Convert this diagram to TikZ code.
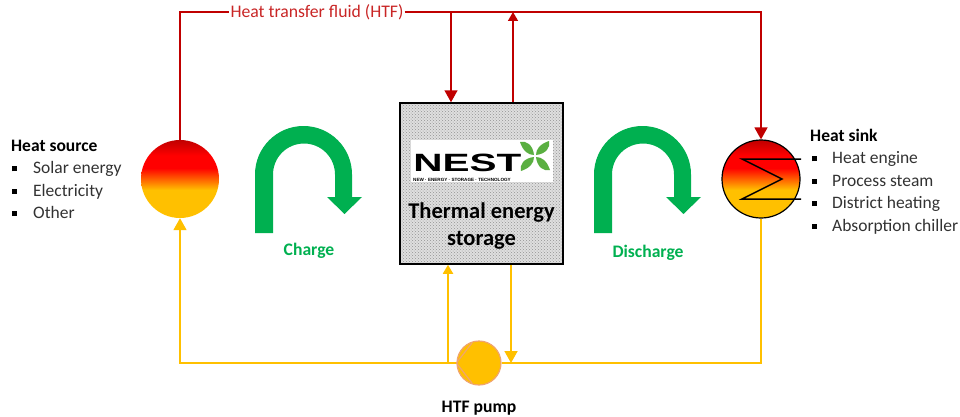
\documentclass[tikz,border=0pt]{standalone}
\usepackage{xcolor}
\usepackage{fontspec}
\setmainfont{Carlito}
\newfontfamily\logofont{Liberation Sans}
\usetikzlibrary{arrows.meta, positioning, calc, patterns}
\definecolor{hotred}{RGB}{192,0,0}
\definecolor{purered}{RGB}{255,0,0}
\definecolor{coldyel}{RGB}{255,192,0}
\definecolor{pumpedge}{RGB}{240,165,110}
\definecolor{turngreen}{RGB}{0,176,80}
\definecolor{bodytext}{RGB}{50,50,50}
\definecolor{leafgreen}{RGB}{90,175,65}
\pgfdeclareverticalshading{heatfill}{100bp}{
  color(0bp)=(coldyel); color(25bp)=(coldyel); color(43bp)=(coldyel);
  color(57bp)=(purered); color(65bp)=(purered); color(75bp)=(hotred); color(100bp)=(hotred)}
\newcommand{\bulletbox}[1]{\makebox[#1][l]{\textcolor{black}{\rule[2.5pt]{5pt}{5pt}}}}
\tikzset{
  heatnode/.style={circle, minimum size=78pt, inner sep=0pt, shading=heatfill},
  storebox/.style={rectangle, minimum width=163pt, minimum height=161pt,
    draw=black, line width=1.5pt, preaction={fill=gray!25},
    pattern=crosshatch dots, pattern color=gray!85},
  pumpnode/.style={circle, minimum size=44pt, inner sep=0pt, fill=coldyel,
    draw=pumpedge, line width=1.2pt},
  logobox/.style={rectangle, fill=white, minimum width=142pt, minimum height=42pt, inner sep=0pt},
  listbox/.style={align=left, inner sep=0pt, anchor=north west, text=bodytext,
    font=\fontsize{17.5}{22.4}\selectfont},
  titletext/.style={align=center, inner sep=0pt, text=black,
    font=\fontsize{22.5}{27}\selectfont\bfseries},
  smallbold/.style={inner sep=0pt, font=\fontsize{17.6}{19}\selectfont\bfseries},
  hotline/.style={draw=hotred, line width=1.5pt},
  coldline/.style={draw=coldyel, line width=1.8pt},
  bigtip/.style={-{Triangle[length=12pt,width=13pt]}},
  smalltip/.style={-{Triangle[length=9pt,width=10pt]}},
  uturn/.pic={
    \fill[turngreen] (0,0) -- (0,58.5) arc (180:0:48.5pt) -- (97,36) -- (107,36)
      -- (89.5,19) -- (72,36) -- (80,36) -- (80,58.5) arc (0:180:31pt) -- (18,0) -- cycle;
  },
  leaf/.pic={
    \fill[leafgreen] (1,1) .. controls (1,7) and (5,12) .. (14,15)
      .. controls (16,9) and (11,2) .. (1,1) -- cycle;
  }
}

\begin{document}
\begin{tikzpicture}[x=1pt, y=1pt]
  \useasboundingbox (0,0) rectangle (960,416);
  \node[heatnode] (source) at (180,237) {};
  \node[heatnode, draw=black, line width=1.2pt] (sink) at (761,237) {};
  \node[storebox] (store) at (481.5,232.5) {};
  \node[pumpnode] (pump) at (479,53) {};
  \node[inner sep=1pt, text=hotred!85!white, fill=white, font=\fontsize{17.7}{19}\selectfont] (htf) at (317,404) {Heat transfer fluid (HTF)};
  \node[logobox] (logo) at (482,255) {};
  \node[inner sep=0pt, anchor=base west, xscale=1.62, font=\logofont\fontsize{25}{25}\selectfont\bfseries] (nest) at (413,244.5) {NEST};
  \node[inner sep=0pt, anchor=base west, font=\logofont\fontsize{4.6}{5}\selectfont\bfseries] (tag) at (413,235) {NEW · ENERGY · STORAGE · TECHNOLOGY};
  \node[titletext] (title) at (481.5,190) {Thermal energy\\storage};
  \node[listbox] (srclist) at (11,276) {\textbf{\textcolor{black}{Heat source}}\\\hspace*{1pt}\bulletbox{21pt}Solar energy\\\hspace*{1pt}\bulletbox{21pt}Electricity\\\hspace*{1pt}\bulletbox{21pt}Other};
  \node[listbox] (snklist) at (810,287) {\textbf{\textcolor{black}{Heat sink}}\\\hspace*{2pt}\bulletbox{20pt}Heat engine\\\hspace*{2pt}\bulletbox{20pt}Process steam\\\hspace*{2pt}\bulletbox{20pt}District heating\\\hspace*{2pt}\bulletbox{20pt}Absorption chiller};
  \node[smallbold, text=turngreen] (charge) at (309,165) {Charge};
  \node[smallbold, text=turngreen] (discharge) at (648,163) {Discharge};
  \node[smallbold, below=15pt of pump, text=black] (pumplbl) {HTF pump};

  \coordinate (hotin) at (451,404);
  \coordinate (hotout) at (513,404);
  \coordinate (coldin) at (448,53);
  \coordinate (coldout) at (511,53);

  \draw[hotline] (source.north) |- (htf.west);
  \draw[hotline, bigtip] (htf.east) -| (sink.north);
  \draw[hotline, bigtip] (hotin) -- (hotin |- store.north);
  \draw[hotline, smalltip] (hotout |- store.north) -- (hotout);
  \draw[coldline] (sink.south) |- (pump.east);
  \draw[coldline, bigtip] (pump.west) -| (source.south);
  \draw[coldline, smalltip] (coldin) -- (coldin |- store.south);
  \draw[coldline, bigtip] (coldout |- store.south) -- (coldout);

  \draw[draw=pumpedge, line width=1.2pt] (pump.west) -- (472,73);
  \draw[draw=pumpedge, line width=1.2pt] (pump.west) -- (472,33);
  \draw[black, line width=1.5pt] (801,257) -- (742,257) -- (782,237) -- (742,217) -- (801,217);

  \pic at (255,183) {uturn};
  \pic at (594,183) {uturn};
  \foreach \ang in {0,90,180,270}
    \pic[rotate=\ang] at (535,260) {leaf};
\end{tikzpicture}
\end{document}
